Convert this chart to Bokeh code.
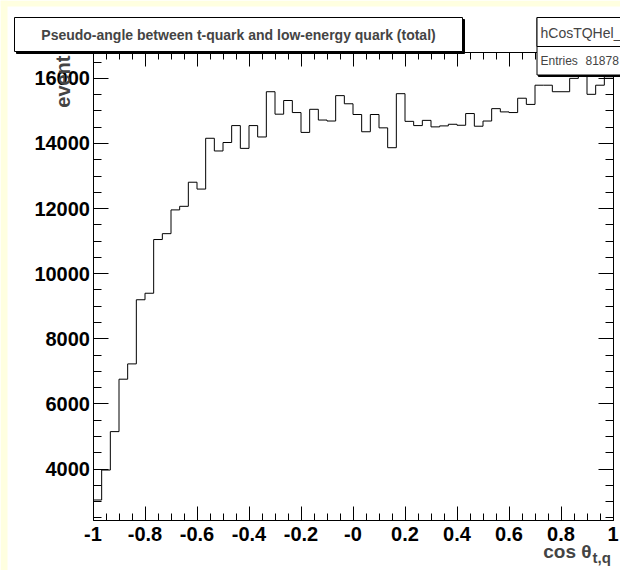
import numpy as np
from bokeh.plotting import figure
from bokeh.models import Range1d, FixedTicker, LinearAxis, Label, BoxAnnotation
from bokeh.embed import file_html
from bokeh.resources import INLINE

# ---------------- data ----------------
x_low, x_high, n_bins = -1.0, 1.0, 60
counts = [3050, 3970, 5150, 6760, 7230, 9200, 9400, 11050, 11230, 11960,
          12070, 12810, 12600, 14160, 13770, 14030, 14550, 13850, 14550, 14200,
          15590, 14900, 15320, 14950, 14340, 15050, 14720, 14690, 15470, 15220,
          14890, 14360, 14890, 14480, 13870, 15530, 14680, 14550, 14710, 14510,
          14540, 14590, 14560, 14920, 14530, 14690, 15070, 14970, 14950, 15390,
          15200, 15790, 15790, 15590, 15590, 16000, 16120, 15510, 15790, 16050]
x_ticks = [-1.0, -0.8, -0.6, -0.4, -0.2, 0.0, 0.2, 0.4, 0.6, 0.8, 1.0]
x_tick_labels = ["-1", "-0.8", "-0.6", "-0.4", "-0.2", "-0", "0.2", "0.4", "0.6", "0.8", "1"]
x_minor = [round(-1 + 0.05 * i, 2) for i in range(41)]
y_ticks = [4000, 6000, 8000, 10000, 12000, 14000, 16000]
y_tick_labels = ["4000", "6000", "8000", "10000", "12000", "14000", "16000"]
y_minor = list(range(2500, 17000, 500))
title_text = "Pseudo-angle between t-quark and low-energy quark (total)"
stats_name = "hCosTQHel_"
stats_key = "Entries"
stats_val = "81878"
x_title = "cos θ"
x_title_sub = "t,q"
y_title = "event"
y_low, y_high = 2420, 16810

# ---------------- layout ----------------
W, H = 620, 570
FL, FR, FT, FB = 92.5, 612.5, 51.5, 520     # inner (histogram) frame, canvas px
FONT = "Liberation Sans"
EDGE = "#ffffe0"

kx = (x_high - x_low) / (FR - FL)
ky = (y_high - y_low) / (FB - FT)
X0, X1 = x_low - FL * kx, x_high + (W - FR) * kx
Y0, Y1 = y_low - (H - FB) * ky, y_high + FT * ky

p = figure(width=W, height=H, output_backend="svg", toolbar_location=None,
           x_range=Range1d(X0, X1), y_range=Range1d(Y0, Y1),
           x_axis_location=None, y_axis_location=None,
           min_border=0, min_border_left=0, min_border_right=0,
           min_border_top=0, min_border_bottom=0)
p.xgrid.visible = False
p.ygrid.visible = False
p.outline_line_color = None
p.background_fill_color = "white"
p.border_fill_color = "white"

def px(cx):
    return X0 + cx * kx

def py(cy):
    return Y1 - cy * ky

# pale canvas edge (left and top)
p.add_layout(BoxAnnotation(left=X0, right=px(7), top=Y1, bottom=Y0, level="underlay",
                           fill_color=EDGE, fill_alpha=1, line_color=None))
p.add_layout(BoxAnnotation(left=X0, right=X1, top=Y1, bottom=py(6), level="underlay",
                           fill_color=EDGE, fill_alpha=1, line_color=None))

edges = np.linspace(x_low, x_high, n_bins + 1)
p.step(x=list(edges), y=counts + [counts[-1]], mode="after", line_color="black", line_width=1)

xt = FixedTicker(ticks=x_ticks, minor_ticks=x_minor)
yt = FixedTicker(ticks=y_ticks, minor_ticks=y_minor)

def make_axis(ticker, loc, bounds, tick_in, minor_in, labels):
    ax = LinearAxis(ticker=ticker, fixed_location=loc, bounds=bounds)
    ax.major_tick_in = tick_in
    ax.major_tick_out = 0
    ax.minor_tick_in = minor_in
    ax.minor_tick_out = 0
    ax.axis_line_color = "black"
    ax.major_tick_line_color = "black"
    ax.minor_tick_line_color = "black"
    if labels is None:
        ax.major_label_text_color = None
        ax.major_label_standoff = 0
    else:
        ax.major_label_overrides = labels
        ax.major_label_text_font = FONT
        ax.major_label_text_font_style = "bold"
        ax.major_label_text_font_size = "20px"
        ax.major_label_text_color = "black"
    return ax

xa = make_axis(xt, y_low, (x_low, x_high), 14, 7,
               {t: l for t, l in zip(x_ticks, x_tick_labels)})
xa.major_label_standoff = 6
p.add_layout(xa, "below")
ya = make_axis(yt, x_low, (y_low, y_high), 15, 8,
               {t: l for t, l in zip(y_ticks, y_tick_labels)})
ya.major_label_standoff = 3
p.add_layout(ya, "left")
p.add_layout(make_axis(xt, y_high, (x_low, x_high), 14, 7, None), "above")
p.add_layout(make_axis(yt, x_high, (y_low, y_high), 15, 8, None), "right")

# axis titles
p.add_layout(Label(x=px(62), y=py(55), text=y_title, angle=np.pi / 2,
                   text_align="right", text_baseline="alphabetic",
                   text_font=FONT, text_font_style="bold", text_font_size="20px"))
p.add_layout(Label(x=px(591), y=py(551), text=x_title, text_align="right",
                   text_baseline="alphabetic", text_font=FONT,
                   text_font_style="bold", text_font_size="19px"))
p.add_layout(Label(x=px(592), y=py(557), text=x_title_sub, text_align="left",
                   text_baseline="alphabetic", text_font=FONT,
                   text_font_style="bold", text_font_size="15px"))

# title pave with shadow
p.add_layout(BoxAnnotation(left=px(16), right=px(464), top=py(19), bottom=py(53),
                           fill_color="black", fill_alpha=1, line_color="black", line_alpha=1))
p.add_layout(BoxAnnotation(left=px(14), right=px(462), top=py(17), bottom=py(51),
                           fill_color="white", fill_alpha=1, line_color="black",
                           line_width=1, line_alpha=1))
p.add_layout(Label(x=px(238), y=py(34), text=title_text, text_align="center",
                   text_baseline="middle", text_font=FONT, text_font_style="bold",
                   text_font_size="14px"))

# stats box
p.add_layout(BoxAnnotation(left=px(538), right=px(660), top=py(19), bottom=py(76),
                           fill_color="black", fill_alpha=1, line_color="black", line_alpha=1))
p.add_layout(BoxAnnotation(left=px(536.5), right=px(660), top=py(17), bottom=py(74.5),
                           fill_color="white", fill_alpha=1, line_color="black",
                           line_width=1, line_alpha=1))
p.add_layout(BoxAnnotation(left=px(536.5), right=px(660), top=py(17), bottom=py(46),
                           fill_color="white", fill_alpha=1, line_color="black",
                           line_width=1, line_alpha=1))
p.add_layout(Label(x=px(540), y=py(32), text=stats_name, text_align="left",
                   text_baseline="middle", text_font=FONT, text_font_size="14px"))
p.add_layout(Label(x=px(540), y=py(60), text=stats_key, text_align="left",
                   text_baseline="middle", text_font=FONT, text_font_size="12px"))
p.add_layout(Label(x=px(585), y=py(60), text=stats_val, text_align="left",
                   text_baseline="middle", text_font=FONT, text_font_size="12px"))

open("out.html", "w").write(file_html(p, INLINE))
